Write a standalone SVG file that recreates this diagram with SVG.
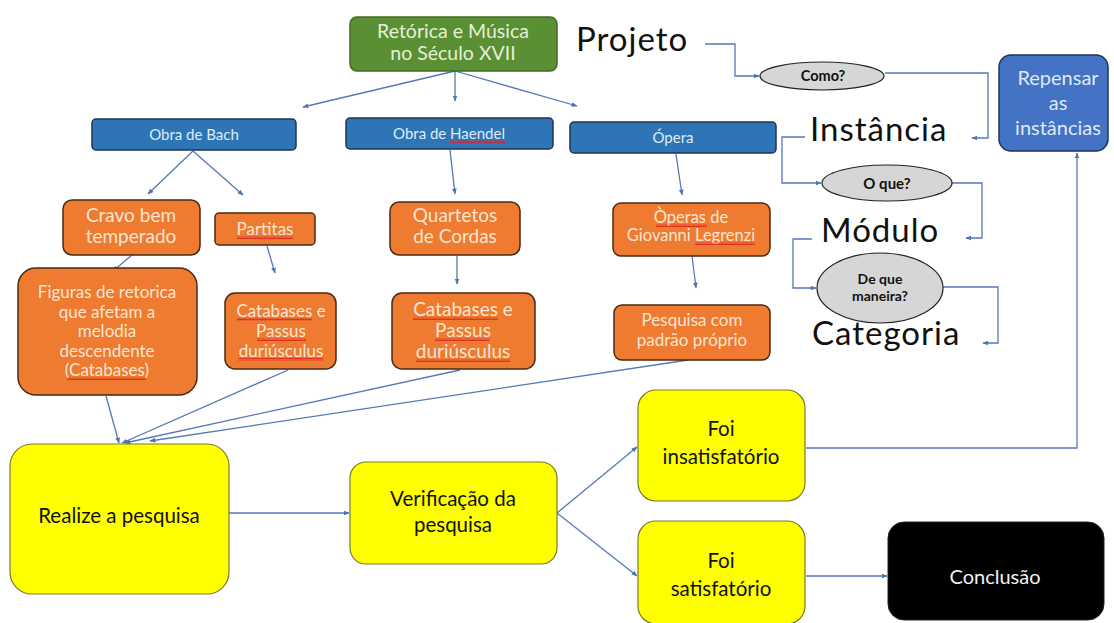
<svg xmlns="http://www.w3.org/2000/svg" width="1114" height="623" viewBox="0 0 1114 623">
<defs>
<marker id="ah" viewBox="0 0 10 10" refX="9" refY="5" markerWidth="6" markerHeight="6" orient="auto" markerUnits="userSpaceOnUse"><path d="M0,1 L10,5 L0,9 z" fill="#4f74b6"/></marker>
<pattern id="wavy" width="4" height="3" patternUnits="userSpaceOnUse"><path d="M0,2.5 L1,0.5 L2,2.5 L3,0.5 L4,2.5" fill="none" stroke="#e02020" stroke-width="0.8"/></pattern>
<style>
.t{font-family:Lato,"Open Sans",sans-serif;text-anchor:middle;}
.big{font-family:Lato,"Open Sans",sans-serif;font-size:33px;letter-spacing:1px;fill:#111;}
.green{fill:#5b8f33;stroke:#3f6b22;stroke-width:1.5;}
.blue{fill:#2e75b6;stroke:#1f3550;stroke-width:1.5;}
.orange{fill:#ee7b30;stroke:#4a2a12;stroke-width:1.5;}
.yellow{fill:#ffff00;stroke:#7a7a2a;stroke-width:1.2;}
.ell{fill:#d6d6d6;stroke:#222;stroke-width:1.2;}
.c{fill:none;stroke:#5478b8;stroke-width:1.3;marker-end:url(#ah);}
.wt{fill:#fbe5d2;}
.bt{fill:#ddeaf7;}
.yt{fill:#111;font-size:20.5px;}
.u{fill:url(#wavy);}
.eb{font-weight:bold;fill:#111;}
</style>
</defs>
<rect width="1114" height="623" fill="#ffffff"/>

<g id="connectors">
<path class="c" d="M455,71 L303,107"/>
<path class="c" d="M455,71 L455,101"/>
<path class="c" d="M455,71 L577,106"/>
<path class="c" d="M193,151 L148,194"/>
<path class="c" d="M193,151 L243,195"/>
<path class="c" d="M450,150 L455,194"/>
<path class="c" d="M676,154 L682,195"/>
<path class="c" d="M132,255 L113,271"/>
<path class="c" d="M267,246 L275,273"/>
<path class="c" d="M457,256 L457,284"/>
<path class="c" d="M692,256 L696,288"/>
<path class="c" d="M106,396 L119,443"/>
<path class="c" d="M288,370 L122,443"/>
<path class="c" d="M460,370 L125,443"/>
<path class="c" d="M688,360 L150,441"/>
<path class="c" d="M229,513 L349,513"/>
<path class="c" d="M557,513 L637,447"/>
<path class="c" d="M557,513 L637,576"/>
<path class="c" d="M806,576 L887,576"/>
<path class="c" d="M806,448 L1077,448 L1077,153"/>
<path class="c" d="M705,44 L735,44 L735,76 L759,76"/>
<path class="c" d="M885,73 L988,73 L988,138 L972,138"/>
<path class="c" d="M805,137 L782,137 L782,183 L821,183"/>
<path class="c" d="M952,183 L982,183 L982,238 L966,238"/>
<path class="c" d="M812,239 L793,239 L793,288 L816,288"/>
<path class="c" d="M943,287 L998,287 L998,343 L983,343"/>
</g>

<g id="n-root">
<rect class="green" x="350" y="17" width="207" height="54" rx="7"/>
<text class="t" x="453" y="38" font-size="19.5" fill="#e4f0d8">Retórica e Música</text>
<text class="t" x="453" y="60" font-size="19.5" fill="#e4f0d8">no Século XVII</text>
</g>

<g id="n-bach">
<rect class="blue" x="92" y="119" width="204" height="31" rx="4"/>
<text class="t bt" x="194" y="140" font-size="15">Obra de Bach</text>
</g>
<g id="n-haendel">
<rect class="blue" x="346" y="118" width="207" height="31" rx="4"/>
<text class="t bt" x="449" y="139" font-size="15">Obra de Haendel</text>
<rect class="u" x="450" y="140" width="55" height="3"/>
</g>
<g id="n-opera">
<rect class="blue" x="570" y="122" width="206" height="31" rx="4"/>
<text class="t bt" x="673" y="143" font-size="15">Ópera</text>
</g>

<g id="n-cravo">
<rect class="orange" x="63" y="200" width="137" height="55" rx="9"/>
<text class="t wt" x="131" y="222" font-size="19">Cravo bem</text>
<text class="t wt" x="131" y="243" font-size="19">temperado</text>
</g>
<g id="n-partitas">
<rect class="orange" x="215" y="213" width="100" height="32" rx="4"/>
<text class="t wt" x="265" y="235" font-size="17">Partitas</text>
<rect class="u" x="237" y="236" width="56" height="3"/>
</g>
<g id="n-figuras">
<rect class="orange" x="18" y="268" width="179" height="127" rx="18"/>
<text class="t wt" x="107" y="298" font-size="17">Figuras de retorica</text>
<text class="t wt" x="107" y="318" font-size="17">que afetam a</text>
<text class="t wt" x="107" y="337" font-size="17">melodia</text>
<text class="t wt" x="107" y="357" font-size="17">descendente</text>
<text class="t wt" x="107" y="376" font-size="17">(Catabases)</text>
<rect class="u" x="67" y="377" width="79" height="3"/>
</g>
<g id="n-cat1">
<rect class="orange" x="225" y="293" width="111" height="76" rx="10"/>
<text class="t wt" x="281" y="317" font-size="17">Catabases e</text>
<text class="t wt" x="281" y="337" font-size="17">Passus</text>
<text class="t wt" x="281" y="357" font-size="17">duriúsculus</text>
<rect class="u" x="237" y="318" width="75" height="3"/>
<rect class="u" x="257" y="338" width="49" height="3"/>
<rect class="u" x="238" y="358" width="85" height="3"/>
</g>
<g id="n-quartetos">
<rect class="orange" x="390" y="202" width="130" height="53" rx="9"/>
<text class="t wt" x="455" y="222" font-size="19">Quartetos</text>
<text class="t wt" x="455" y="243" font-size="19">de Cordas</text>
</g>
<g id="n-cat2">
<rect class="orange" x="392" y="293" width="143" height="76" rx="10"/>
<text class="t wt" x="463" y="316" font-size="19">Catabases e</text>
<text class="t wt" x="463" y="337" font-size="19">Passus</text>
<text class="t wt" x="463" y="358" font-size="19">duriúsculus</text>
<rect class="u" x="413" y="317" width="85" height="3"/>
<rect class="u" x="435" y="338" width="55" height="3"/>
<rect class="u" x="416" y="359" width="94" height="3"/>
</g>
<g id="n-operas">
<rect class="orange" x="613" y="203" width="157" height="53" rx="8"/>
<text class="t wt" x="691" y="223" font-size="16.5">Òperas de</text>
<text class="t wt" x="691" y="241" font-size="16.5">Giovanni Legrenzi</text>
<rect class="u" x="656" y="224" width="51" height="3"/>
<rect class="u" x="695" y="242" width="60" height="3"/>
</g>
<g id="n-pesquisa">
<rect class="orange" x="614" y="305" width="156" height="55" rx="8"/>
<text class="t wt" x="692" y="326" font-size="17">Pesquisa com</text>
<text class="t wt" x="692" y="346" font-size="17">padrão próprio</text>
</g>

<g id="n-realize">
<rect class="yellow" x="10" y="444" width="219" height="150" rx="22"/>
<text class="t yt" x="119" y="523">Realize a pesquisa</text>
</g>
<g id="n-verificacao">
<rect class="yellow" x="350" y="462" width="207" height="102" rx="16"/>
<text class="t yt" x="453" y="506">Verificação da</text>
<text class="t yt" x="453" y="532">pesquisa</text>
</g>
<g id="n-insat">
<rect class="yellow" x="638" y="390" width="167" height="111" rx="18"/>
<text class="t yt" x="721" y="436">Foi</text>
<text class="t yt" x="721" y="464">insatisfatório</text>
</g>
<g id="n-sat">
<rect class="yellow" x="638" y="521" width="167" height="103" rx="18"/>
<text class="t yt" x="721" y="568">Foi</text>
<text class="t yt" x="721" y="596">satisfatório</text>
</g>
<g id="n-conclusao">
<rect x="888" y="522" width="216" height="98" rx="16" fill="#000" stroke="#222"/>
<text class="t" x="995" y="584" font-size="20" fill="#f2f2f2">Conclusão</text>
</g>

<g id="n-repensar">
<rect x="999" y="55" width="109" height="96" rx="12" fill="#4472c4" stroke="#1f3550" stroke-width="1.5"/>
<text class="t" x="1058" y="85" font-size="20" fill="#ddeaf7">Repensar</text>
<text class="t" x="1058" y="110" font-size="20" fill="#ddeaf7">as</text>
<text class="t" x="1058" y="135" font-size="20" fill="#ddeaf7">instâncias</text>
</g>

<g id="n-projeto"><text class="big" x="576" y="51">Projeto</text></g>
<g id="n-como">
<ellipse class="ell" cx="822" cy="76" rx="62" ry="14"/>
<text class="t eb" x="823" y="81" font-size="14.5">Como?</text>
</g>
<g id="n-instancia"><text class="big" x="810" y="141">Instância</text></g>
<g id="n-oque">
<ellipse class="ell" cx="887" cy="183" rx="65" ry="18"/>
<text class="t eb" x="887" y="189" font-size="15">O que?</text>
</g>
<g id="n-modulo"><text class="big" x="821" y="242">Módulo</text></g>
<g id="n-dequemaneira">
<ellipse class="ell" cx="880" cy="288" rx="63" ry="35"/>
<text class="t eb" x="880" y="284" font-size="14">De que</text>
<text class="t eb" x="880" y="301" font-size="14">maneira?</text>
</g>
<g id="n-categoria"><text class="big" x="812" y="345">Categoria</text></g>
</svg>
